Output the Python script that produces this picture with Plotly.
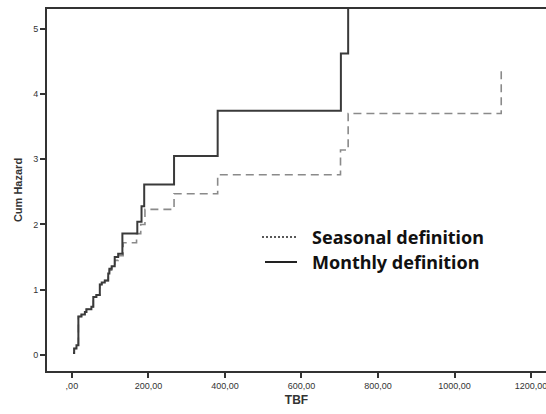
import plotly.graph_objects as go

# Monthly definition: step times (TBF) and cumulative hazard after each step
monthly_t = [3, 6, 12, 17, 25, 34, 38, 51, 56, 64, 73, 78, 86, 95, 98, 104,
             112, 121, 132, 171, 182, 189, 267, 381, 703, 722]
monthly_h = [0.03, 0.10, 0.15, 0.59, 0.62, 0.66, 0.70, 0.74, 0.89, 0.92, 1.08,
             1.11, 1.14, 1.25, 1.32, 1.36, 1.50, 1.55, 1.86, 2.04, 2.28, 2.61,
             3.05, 3.74, 4.62, 5.60]

# Seasonal definition
seasonal_t = [3, 6, 12, 17, 25, 34, 38, 51, 56, 64, 73, 78, 86, 95, 98, 104,
              112, 121, 134, 169, 180, 191, 267, 381, 702, 722, 1122]
seasonal_h = [0.03, 0.10, 0.15, 0.59, 0.62, 0.66, 0.70, 0.74, 0.89, 0.92, 1.08,
              1.11, 1.14, 1.25, 1.30, 1.34, 1.45, 1.52, 1.72, 1.86, 2.00, 2.23,
              2.47, 2.76, 3.14, 3.70, 4.41]

x_tickvals = [0, 200, 400, 600, 800, 1000, 1200]
x_ticktext = [",00", "200,00", "400,00", "600,00", "800,00", "1000,00", "1200,00"]
y_tickvals = [0, 1, 2, 3, 4, 5]

legend_labels = ["Seasonal definition", "Monthly definition"]

fig = go.Figure()
fig.add_trace(go.Scatter(x=seasonal_t, y=seasonal_h, mode="lines", line_shape="hv",
                         line=dict(color="#8a8a8a", width=1.6, dash="8px,5px"),
                         showlegend=False))
fig.add_trace(go.Scatter(x=monthly_t, y=monthly_h, mode="lines", line_shape="hv",
                         line=dict(color="#3a3a3a", width=2),
                         showlegend=False))

tick_font = dict(family="Liberation Sans, Arial", size=9, color="#333")
fig.update_layout(
    width=546, height=414,
    margin=dict(l=47, r=0, t=9, b=43),
    plot_bgcolor="white", paper_bgcolor="white",
    xaxis=dict(range=[-65, 1239], tickvals=x_tickvals, ticktext=x_ticktext,
               showgrid=False, zeroline=False, showline=True, linecolor="#333",
               linewidth=2, mirror=True, ticks="outside", ticklen=5, tickwidth=1.5,
               tickcolor="#333", tickfont=tick_font, ticklabeloverflow="allow",
               title=dict(text="<b>TBF</b>", font=dict(family="Liberation Sans, Arial", size=12, color="#333"), standoff=6)),
    yaxis=dict(range=[-0.245, 5.3], tickvals=y_tickvals,
               showgrid=False, zeroline=False, showline=True, linecolor="#333",
               linewidth=2, ticks="outside", ticklen=5, tickwidth=1.5,
               tickcolor="#333", tickfont=tick_font,
               title=dict(text="<b>Cum Hazard</b>", font=dict(family="Liberation Sans, Arial", size=11, color="#333"), standoff=8)),
)

# Legend drawn manually
leg_y = [237, 262]
for i, (lab, yy) in enumerate(zip(legend_labels, leg_y)):
    fig.add_shape(type="line", xref="paper", yref="paper",
                  x0=(262 - 47) / 499 if i == 0 else (265 - 47) / 499,
                  x1=(297 - 47) / 499,
                  y0=(414 - yy - 43) / 362, y1=(414 - yy - 43) / 362,
                  line=dict(color="#222", width=1.5 if i == 0 else 2,
                            dash="2px,2px" if i == 0 else "solid"))
    fig.add_annotation(text="<b>%s</b>" % lab, xref="paper", yref="paper",
                       x=(310 - 47) / 499, y=(414 - yy - 43) / 362,
                       xanchor="left", yanchor="middle", showarrow=False,
                       font=dict(family="Noto Sans", size=18, color="#111"))

fig.write_html("out.html")
